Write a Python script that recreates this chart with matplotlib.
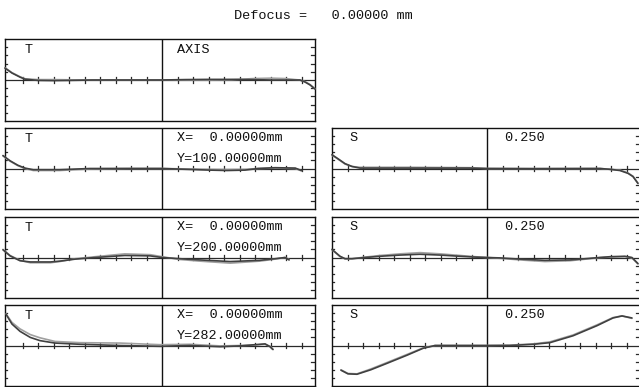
import matplotlib
matplotlib.use("Agg")
import matplotlib.pyplot as plt

W, H = 639, 387
FONT = "Liberation Mono"

title_text = "Defocus =   0.00000 mm"

# ---- tangential fans (pupil coordinate, error for two wavelengths) ----
t1_p = [-1.013, -0.968, -0.916, -0.884, -0.80, -0.70, -0.60, -0.45, -0.30, -0.15, 0.00,
        0.15, 0.30, 0.45, 0.59, 0.70, 0.80, 0.86, 0.89, 0.923, 0.955, 0.987]
t1_a = [0.29, 0.17, 0.07, 0.02, -0.01, -0.015, -0.01, 0.0, 0.0, 0.0, 0.0,
        0.01, 0.015, 0.015, 0.01, 0.0, 0.0, 0.0, 0.0, -0.05, -0.12, -0.22]
t1_b = [0.30, 0.18, 0.08, 0.03, 0.01, 0.01, 0.005, 0.0, 0.0, 0.0, 0.0,
        0.0, 0.0, 0.005, 0.035, 0.045, 0.035, 0.01, 0.0, -0.04, -0.11, -0.21]

t2_p = [-1.026, -0.98, -0.93, -0.884, -0.83, -0.66, -0.465, -0.2, 0.0,
        0.31, 0.42, 0.535, 0.62, 0.73, 0.86, 0.90]
t2_a = [0.32, 0.19, 0.08, 0.01, -0.03, -0.03, 0.0, 0.0, 0.0,
        -0.04, -0.05, -0.04, 0.0, 0.02, 0.01, -0.05]
t2_b = [0.31, 0.18, 0.07, 0.0, -0.05, -0.05, -0.01, 0.0, 0.0,
        -0.02, -0.025, -0.02, 0.0, 0.01, 0.0, -0.06]

t3_p = [-1.026, -0.98, -0.916, -0.85, -0.72, -0.66, -0.56, -0.43, -0.24, -0.077, 0.0,
        0.116, 0.245, 0.44, 0.63, 0.73, 0.794, 0.82]
t3_a = [0.19, 0.04, -0.08, -0.11, -0.11, -0.09, -0.04, 0.0, 0.05, 0.04, 0.0,
        -0.03, -0.06, -0.10, -0.07, -0.03, 0.0, -0.06]
t3_b = [0.20, 0.05, -0.07, -0.13, -0.13, -0.10, -0.03, 0.02, 0.09, 0.07, 0.02,
        -0.05, -0.09, -0.14, -0.09, -0.04, 0.0, -0.05]

t4_p = [-1.006, -0.968, -0.916, -0.85, -0.787, -0.69, -0.53, -0.27, -0.013,
        0.18, 0.374, 0.503, 0.60, 0.665, 0.697, 0.716]
t4_a = [0.77, 0.53, 0.35, 0.20, 0.12, 0.06, 0.03, 0.0, -0.02,
        0.0, -0.03, -0.01, 0.02, 0.04, -0.03, -0.10]
t4_b = [0.78, 0.57, 0.41, 0.27, 0.19, 0.10, 0.07, 0.06, 0.02,
        0.03, -0.01, 0.0, 0.01, 0.03, -0.02, -0.09]

# ---- sagittal fans ----
s2_p = [-1.0, -0.961, -0.916, -0.871, -0.819, -0.5, -0.11, 0.0, 0.3,
        0.729, 0.794, 0.858, 0.91, 0.942, 0.974]
s2_a = [0.34, 0.24, 0.12, 0.05, 0.01, 0.01, 0.01, 0.0, -0.005,
        0.0, -0.02, -0.05, -0.12, -0.20, -0.37]
s2_b = [0.33, 0.23, 0.11, 0.05, 0.03, 0.03, 0.02, 0.0, 0.0,
        0.0, -0.02, -0.04, -0.11, -0.19, -0.36]

s3_p = [-1.0, -0.948, -0.916, -0.871, -0.787, -0.69, -0.561, -0.432, -0.303, -0.174, -0.077, 0.0,
        0.084, 0.213, 0.374, 0.535, 0.665, 0.729, 0.794, 0.89, 0.935, 0.974]
s3_a = [0.20, 0.03, -0.03, -0.03, 0.0, 0.03, 0.06, 0.08, 0.06, 0.03, 0.01, 0.0,
        -0.01, -0.04, -0.07, -0.06, -0.02, 0.0, 0.02, 0.03, 0.0, -0.15]
s3_b = [0.19, 0.02, -0.03, -0.03, 0.01, 0.05, 0.09, 0.12, 0.09, 0.05, 0.02, 0.0,
        -0.02, -0.06, -0.10, -0.08, -0.03, 0.0, 0.01, 0.02, -0.01, -0.16]

s4_p = [-0.942, -0.897, -0.839, -0.75, -0.645, -0.516, -0.413, -0.335, 0.0,
        0.148, 0.30, 0.406, 0.555, 0.71, 0.813, 0.871, 0.935]
s4_a = [-0.61, -0.70, -0.71, -0.60, -0.44, -0.24, -0.07, 0.0, 0.0,
        0.0, 0.03, 0.07, 0.24, 0.49, 0.68, 0.73, 0.68]
s4_b = [-0.60, -0.69, -0.70, -0.58, -0.42, -0.22, -0.06, 0.0, 0.0,
        0.01, 0.04, 0.09, 0.26, 0.51, 0.69, 0.73, 0.67]

field_labels = [["AXIS"],
                ["X=  0.00000mm", "Y=100.00000mm"],
                ["X=  0.00000mm", "Y=200.00000mm"],
                ["X=  0.00000mm", "Y=282.00000mm"]]
scale_label = "0.250"

t_fans = [(t1_p, t1_a, t1_b), (t2_p, t2_a, t2_b), (t3_p, t3_a, t3_b), (t4_p, t4_a, t4_b)]
s_fans = [None, (s2_p, s2_a, s2_b), (s3_p, s3_a, s3_b), (s4_p, s4_a, s4_b)]

# panel geometry in pixels
rows = [(39, 121), (128, 209), (217, 298), (305, 386)]
left_col = (5, 315, 162)
right_col = (332, 640, 487)

DARK = "#404040"
LIGHT = "#a0a0a0"
AXC = "#2a2a2a"

fig = plt.figure(figsize=(W / 100, H / 100), dpi=100)
fig.patch.set_facecolor("white")


def make_panel(col, row):
    x0, x1, xc = col
    y0, y1 = row
    half = 155.0
    ax = fig.add_axes([x0 / W, 1 - y1 / H, (x1 - x0) / W, (y1 - y0) / H])
    ax.set_xlim(-(xc - x0) / half, (x1 - xc) / half)
    ax.set_ylim(-1, 1)
    ax.set_xticks([])
    ax.set_yticks([])
    for sp in ax.spines.values():
        sp.set_linewidth(1.0)
        sp.set_color("#111111")
    ax.axhline(0, color=AXC, lw=0.9, zorder=2)
    ax.axvline(0, color="#111111", lw=1.0, zorder=2)
    xl = ax.get_xlim()
    dx = 2.2 / half
    for i in range(1, 10):
        for s in (-1, 1):
            p = s * i / 10
            ax.plot([p, p], [-0.065, 0.065], color=AXC, lw=0.9, zorder=2)
    for i in range(1, 5):
        for s in (-1, 1):
            yv = s * i / 5
            ax.plot([xl[0], xl[0] + dx], [yv, yv], color=AXC, lw=0.9, zorder=2)
            ax.plot([xl[1] - dx - 1.5 / half, xl[1] - 1.5 / half], [yv, yv],
                    color=AXC, lw=0.9, zorder=2)
    return ax


def text_at(px, py, s):
    fig.text(px / W, 1 - py / H, s, fontsize=9.7, family=FONT,
             ha="left", va="center", color="#111111")


fig.text(323 / W, 1 - 16 / H, title_text, fontsize=9.7, family=FONT,
         ha="center", va="center", color="#111111")

for r, row in enumerate(rows):
    ax = make_panel(left_col, row)
    p, a, b = t_fans[r]
    ax.plot(p, b, color=LIGHT, lw=1.2, zorder=3, clip_on=False, solid_capstyle="round")
    ax.plot(p, a, color=DARK, lw=1.2, zorder=4, clip_on=False, solid_capstyle="round")
    y0 = row[0]
    text_at(25, y0 + 11, "T")
    labels = field_labels[r]
    if len(labels) == 1:
        text_at(177, y0 + 11, labels[0])
    else:
        text_at(177, y0 + 10, labels[0])
        text_at(177, y0 + 31, labels[1])

    if s_fans[r] is not None:
        ax2 = make_panel(right_col, row)
        p, a, b = s_fans[r]
        ax2.plot(p, b, color=LIGHT, lw=1.2, zorder=3, clip_on=False, solid_capstyle="round")
        ax2.plot(p, a, color=DARK, lw=1.2, zorder=4, clip_on=False, solid_capstyle="round")
        text_at(349, y0 + 10, "S")
        text_at(504, y0 + 10, scale_label)

fig.savefig("out.png", dpi=100, facecolor="white")
